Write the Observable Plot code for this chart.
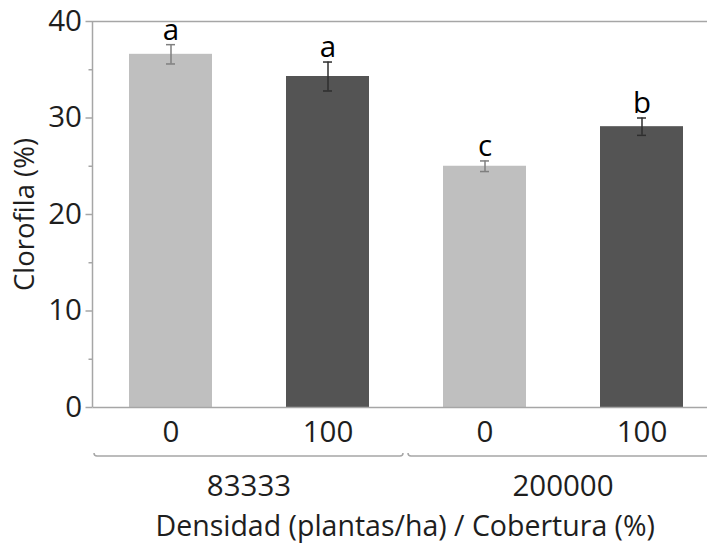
<!DOCTYPE html>
<html>
<head>
<meta charset="utf-8">
<script src="https://cdn.jsdelivr.net/npm/d3@7"></script>
<script src="https://cdn.jsdelivr.net/npm/@observablehq/plot@0.6"></script>
<style>
  html, body { margin: 0; padding: 0; background: #fff; }
  #chart svg { display: block; }
</style>
</head>
<body>
<div id="chart"></div>
<script>
// ---- data ----
const densidad   = ["83333", "83333", "200000", "200000"];
const cobertura  = ["0", "100", "0", "100"];
const clorofila  = [36.6, 34.3, 25.0, 29.1];
const errores    = [1.0, 1.5, 0.55, 0.9];
const letras     = ["a", "a", "c", "b"];
const grupos     = ["83333", "200000"];
const yTicks     = [0, 10, 20, 30, 40];
const yMinor     = [5, 15, 25, 35];

const rows = densidad.map((d, i) => ({
  key: d + "|" + cobertura[i],
  densidad: d,
  cobertura: cobertura[i],
  valor: clorofila[i],
  err: errores[i],
  letra: letras[i]
}));
const keys = rows.map(r => r.key);

const FONT = "'Open Sans', sans-serif";
const FS = 29.5;
const AXIS = "#a6a6a6";
const TXT = "#1e1e1e";
const barFill = d => d.cobertura === "0" ? "#bfbfbf" : "#545454";
const errStroke = d => d.cobertura === "0" ? "#7f7f7f" : "#2e2e2e";

// group brackets + group labels + left axis line, drawn through the x scale
function groupLayer(index, scales, values, dim) {
  const x = scales.x, y = scales.y;
  const step = x.step(), bw = x.bandwidth();
  const pad = (step - bw) / 2;
  const g = d3.create("svg:g");
  g.append("line")
    .attr("x1", dim.marginLeft).attr("x2", dim.marginLeft)
    .attr("y1", y(40)).attr("y2", y(0))
    .attr("stroke", AXIS).attr("stroke-width", 1.5);
  const base = y(0);
  grupos.forEach((grp) => {
    const ks = keys.filter(k => k.startsWith(grp + "|"));
    const x1 = x(ks[0]) - pad + 2;
    const x2 = x(ks[ks.length - 1]) + bw + pad - 3;
    const by = base + 49;
    g.append("path")
      .attr("d", `M${x1},${by - 3}Q${x1},${by} ${x1 + 3},${by}H${x2 - 3}Q${x2},${by} ${x2},${by - 3}`)
      .attr("fill", "none").attr("stroke", AXIS).attr("stroke-width", 1.5);
    g.append("text")
      .attr("x", (x(ks[0]) + x(ks[ks.length - 1]) + bw) / 2)
      .attr("y", base + 89)
      .attr("text-anchor", "middle")
      .attr("font-family", FONT).attr("font-size", FS)
      .attr("fill", TXT)
      .text(grp);
  });
  return g.node();
}

const plot = Plot.plot({
  width: 707,
  height: 543,
  marginTop: 21,
  marginBottom: 136,
  marginLeft: 92.5,
  marginRight: 0,
  style: { fontFamily: FONT, background: "#fff" },
  x: { domain: keys, range: [92.5, 720.5], paddingInner: 0.47, paddingOuter: 0.235, align: 0.5, axis: null },
  y: { domain: [0, 40], axis: null },
  marks: [
    Plot.barY(rows, { x: "key", y: "valor", fill: barFill }),
    // error bars
    Plot.ruleX(rows, { x: "key", y1: d => d.valor - d.err, y2: d => d.valor + d.err, stroke: errStroke, strokeWidth: 1.5 }),
    Plot.tickY(rows, { x: "key", y: d => d.valor + d.err, stroke: errStroke, strokeWidth: 1.5, insetLeft: 37, insetRight: 37 }),
    Plot.tickY(rows, { x: "key", y: d => d.valor - d.err, stroke: errStroke, strokeWidth: 1.5, insetLeft: 37, insetRight: 37 }),
    // significance letters
    Plot.text(rows, { x: "key", y: d => d.valor + d.err, text: "letra", dy: -5, lineAnchor: "bottom", fontSize: FS, fill: "#000" }),
    // frame lines
    Plot.ruleY([0, 40], { stroke: AXIS, strokeWidth: 1.5 }),
    // y axis
    Plot.axisY({ ticks: yTicks, tickSize: 7, text: null, label: null, stroke: AXIS, strokeWidth: 1.5 }),
    Plot.axisY({ ticks: yMinor, tickSize: 4, text: null, label: null, stroke: AXIS, strokeWidth: 1.5 }),
    Plot.axisY({ ticks: yTicks, tickSize: 0, tickPadding: 11, label: null, fontSize: FS, fill: TXT }),
    // x tick labels (cobertura)
    Plot.text(rows, { x: "key", text: "cobertura", frameAnchor: "bottom", dy: 25, lineAnchor: "middle", fontSize: FS, fill: TXT }),
    // group brackets and labels
    groupLayer,
    // y label
    Plot.text(["Clorofila (%)"], { frameAnchor: "left", textAnchor: "middle", rotate: -90, dx: -68, dy: 0, fontSize: 27.5, fill: TXT }),
    // x title
    Plot.text(["Densidad (plantas/ha) / Cobertura (%)"], { frameAnchor: "bottom", textAnchor: "middle", dy: 119, dx: 5, lineAnchor: "middle", fontSize: 28.5, fill: TXT })
  ]
});
document.getElementById("chart").appendChild(plot);
</script>
</body>
</html>
